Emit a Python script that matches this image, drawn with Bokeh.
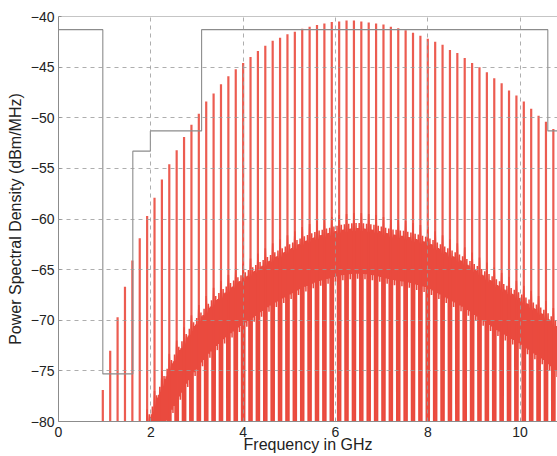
from bokeh.plotting import figure
from bokeh.models import Range1d, FixedTicker, Span
from bokeh.embed import file_html
from bokeh.resources import INLINE

# ---- data ----
# spectral lines (GHz) and their peak levels (dBm/MHz)
spike_freq = [0.96, 1.12, 1.28, 1.44, 1.60, 1.76, 1.92, 2.08, 2.24, 2.40,
              2.56, 2.72, 2.88, 3.04, 3.20, 3.36, 3.52, 3.68, 3.84, 4.00,
              4.16, 4.32, 4.48, 4.64, 4.80, 4.96, 5.12, 5.28, 5.44, 5.60,
              5.76, 5.92, 6.08, 6.24, 6.40, 6.56, 6.72, 6.88, 7.04, 7.20,
              7.36, 7.52, 7.68, 7.84, 8.00, 8.16, 8.32, 8.48, 8.64, 8.80,
              8.96, 9.12, 9.28, 9.44, 9.60, 9.76, 9.92, 10.08, 10.24, 10.40,
              10.56, 10.72]
spike_level = [-76.9, -73.0, -69.7, -66.7, -64.1, -61.9, -59.7, -57.9, -56.1, -54.6,
               -53.2, -51.9, -50.7, -49.6, -48.4, -47.6, -46.7, -45.9, -45.2, -44.6,
               -44.0, -43.4, -42.9, -42.4, -42.1, -41.75, -41.5, -41.2, -41.0, -40.85,
               -40.7, -40.55, -40.5, -40.4, -40.4, -40.5, -40.6, -40.7, -40.8, -41.0,
               -41.15, -41.35, -41.6, -41.9, -42.2, -42.5, -42.8, -43.3, -43.6, -44.1,
               -44.6, -45.0, -45.5, -46.1, -46.6, -47.3, -47.8, -48.4, -49.1, -49.8,
               -50.4, -51.1]

# continuous part: top level at each line position
cont_freq = [1.76, 1.92, 2.08, 2.24, 2.40, 2.56, 2.72, 2.88, 3.04, 3.20,
             3.36, 3.52, 3.68, 3.84, 4.00, 4.16, 4.32, 4.48, 4.64, 4.80,
             4.96, 5.12, 5.28, 5.44, 5.60, 5.76, 5.92, 6.08, 6.24, 6.40,
             6.56, 6.72, 6.88, 7.04, 7.20, 7.36, 7.52, 7.68, 7.84, 8.00,
             8.16, 8.32, 8.48, 8.64, 8.80, 8.96, 9.12, 9.28, 9.44, 9.60,
             9.76, 9.92, 10.08, 10.24, 10.40, 10.56, 10.72, 10.88]
cont_level = [-80.5, -78.8, -77.0, -75.0, -73.3, -72.0, -70.7, -69.5, -68.5, -67.6,
              -66.8, -66.1, -65.5, -64.9, -64.4, -63.9, -63.4, -62.9, -62.4, -62.0,
              -61.6, -61.2, -60.8, -60.5, -60.2, -60.0, -59.8, -59.6, -59.5, -59.4,
              -59.4, -59.5, -59.6, -59.8, -60.0, -60.1, -60.2, -60.4, -60.6, -60.8,
              -61.2, -61.6, -62.0, -62.4, -62.8, -63.3, -63.8, -64.3, -64.8, -65.3,
              -65.7, -66.1, -66.6, -67.1, -67.6, -68.1, -68.8, -69.4]
# ripple shape of the continuous part between two lines (fraction of spacing, dB)
lobe_t = [0.00, 0.04, 0.09, 0.16, 0.23, 0.29, 0.36, 0.43, 0.50,
          0.57, 0.64, 0.71, 0.77, 0.84, 0.91, 0.96, 1.00]
lobe_db = [0.0, -1.0, -3.0, -45.0, -3.0, -1.0, -6.0, -1.5, -6.5,
           -1.5, -6.0, -1.0, -3.0, -45.0, -3.0, -1.0, 0.0]

# FCC indoor mask
mask_freq = [0.0, 0.96, 1.61, 1.99, 3.10, 10.60, 12.0]
mask_level = [-41.3, -75.3, -53.3, -51.3, -41.3, -51.3, -51.3]

x_ticks = [0, 2, 4, 6, 8, 10]
y_ticks = [-80, -75, -70, -65, -60, -55, -50, -45, -40]

FONT = "Liberation Sans"
RED = "#EA4A3E"
GRAY = "#8c8c8c"

p = figure(width=557, height=456, output_backend="svg", toolbar_location=None,
           x_range=Range1d(0, 10.81), y_range=Range1d(-80, -40),
           min_border_left=58, min_border_right=0, min_border_top=16,
           min_border_bottom=35)
p.outline_line_color = None
p.background_fill_color = "white"
p.border_fill_color = "white"

# continuous spectrum (dense rippled line)
cx, cy = [], []
for k in range(len(cont_freq) - 1):
    f0, f1 = cont_freq[k], cont_freq[k + 1]
    l0, l1 = cont_level[k], cont_level[k + 1]
    for t, d in zip(lobe_t[:-1], lobe_db[:-1]):
        cx.append(f0 + t * (f1 - f0))
        cy.append(l0 + t * (l1 - l0) + d)
cx.append(cont_freq[-1])
cy.append(cont_level[-1])
p.line(cx, cy, line_color=RED, line_width=1.5, line_join="miter")

# spectral lines
p.segment(x0=spike_freq, y0=[-100] * len(spike_freq), x1=spike_freq, y1=spike_level,
          line_color=RED, line_width=2.2, line_alpha=0.9)

# mask
p.step(mask_freq, mask_level, mode="after", line_color=GRAY, line_width=1.1)

# top frame line
p.add_layout(Span(location=-40, dimension="width", line_color=GRAY, line_width=1))

# axes
for ax in (p.xaxis[0], p.yaxis[0]):
    ax.axis_line_color = GRAY
    ax.major_tick_in = 3
    ax.major_tick_out = 0
    ax.major_tick_line_color = GRAY
    ax.minor_tick_line_color = None
    ax.major_label_text_font = FONT
    ax.major_label_text_font_size = "14px"
    ax.major_label_text_color = "#222222"
    ax.axis_label_text_font = FONT
    ax.axis_label_text_font_size = "16px"
    ax.axis_label_text_font_style = "normal"
    ax.axis_label_text_color = "#222222"

p.xaxis.ticker = FixedTicker(ticks=x_ticks)
p.yaxis.ticker = FixedTicker(ticks=y_ticks)
p.xaxis.axis_label = "Frequency in GHz"
p.yaxis.axis_label = "Power Spectral Density (dBm/MHz)"
p.xaxis.major_label_standoff = 5
p.xaxis.axis_label_standoff = -4
p.yaxis.major_label_standoff = 4
p.yaxis.axis_label_standoff = 4

# grid on top, dashed
for g in (p.xgrid[0], p.ygrid[0]):
    g.grid_line_color = "#9a9a9a"
    g.grid_line_dash = "4 4"
    g.grid_line_width = 1
    g.grid_line_alpha = 0.8
    g.level = "overlay"

open("out.html", "w").write(file_html(p, INLINE))
